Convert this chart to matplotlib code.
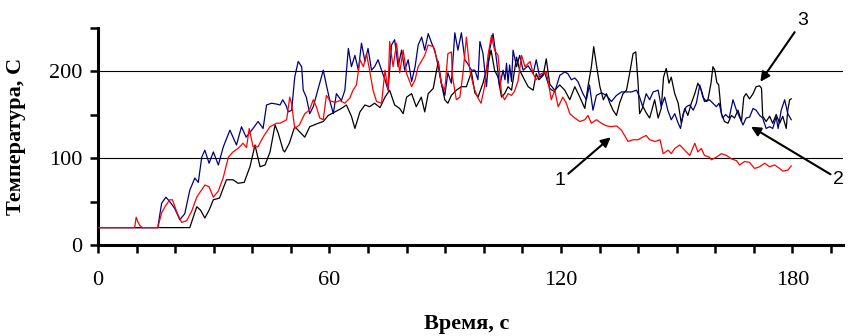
import matplotlib.pyplot as plt

# кривая 1 (красная)
t1 = [0, 9.5, 9.9, 10.3, 10.9, 11.5, 15.5, 16.5, 17.5, 18.6, 19.3, 20.5, 21.7, 23.0, 24.3, 25.6, 27.7, 28.8,
      29.9, 31.2, 32.5, 33.8, 35.0, 36.3, 37.6, 38.5, 39.2, 40.2, 41.5, 42.8, 44.6, 46.3, 47.2, 48.9, 49.7,
      50.2, 51.0, 52.2, 53.6, 54.8, 55.8, 56.6, 57.5, 58.4, 59.2, 60.1, 61.4, 62.7, 64.0, 65.3, 66.1, 67.0,
      67.9, 68.8, 69.6, 70.4, 71.3, 72.2, 73.5, 74.4, 75.2, 75.6, 76.5, 77.4, 78.2, 79.1, 80.0, 81.3, 82.2,
      83.0, 83.9, 84.7, 85.6, 86.9, 88.2, 89.0, 89.9, 90.7, 91.6, 91.9, 92.9, 93.8, 94.6, 95.5, 96.4, 97.5,
      98.5, 99.3, 100.2, 101.1, 102.0, 102.8, 103.7, 104.6, 105.4, 106.3, 107.2, 108.0, 108.9, 109.8, 110.7,
      112.0, 112.8, 113.6, 114.9, 116.2, 116.7, 117.5, 118.4, 119.3, 120.5, 121.4, 122.3, 123.6, 124.9,
      126.2, 127.0, 127.9, 129.2, 130.5, 131.8, 133.1, 134.4, 135.7, 136.5, 137.4, 138.7, 140.0, 141.2,
      142.1, 143.0, 144.4, 145.7, 146.5, 147.8, 148.6, 149.5, 150.8, 152.1, 153.4, 154.7, 155.5, 156.4,
      157.2, 158.5, 159.0, 160.3, 161.6, 162.9, 164.2, 165.5, 166.3, 167.6, 168.9, 170.2, 171.5, 172.8,
      174.1, 175.4, 176.7, 177.5, 178.8, 179.7]
T1 = [20, 20, 32, 27, 22, 20, 20, 37, 45, 52, 52, 37, 26, 28, 39, 55, 69, 67,
      55, 62, 78, 101, 107, 111, 117, 112, 134, 113, 113, 124, 136, 140, 140, 144, 170,
      162, 134, 138, 151, 155, 167, 159, 146, 144, 172, 166, 164, 166, 163, 169, 178, 184,
      213, 205, 220, 201, 178, 165, 163, 201, 178, 234, 205, 232, 198, 224, 197, 182, 190,
      205, 212, 218, 230, 228, 209, 186, 178, 220, 222, 193, 167, 170, 197, 239, 200, 180,
      169, 163, 182, 218, 241, 224, 218, 174, 167, 174, 172, 177, 189, 218, 205,
      211, 197, 190, 197, 199, 188, 167, 178, 159, 170, 163, 151, 146, 142,
      144, 149, 140, 144, 140, 137, 136, 137, 132, 126, 119, 121, 121, 124,
      126, 121, 119, 121, 105, 109, 105, 111, 115, 109, 103, 117, 107, 111,
      103, 101, 98, 101, 105, 103, 99, 97, 92, 96, 95, 88, 90, 94,
      90, 92, 88, 85, 86, 91]

# кривая 2 (синяя)
t2 = [0, 15.5, 16.5, 17.6, 18.6, 19.9, 21.2, 22.5, 23.8, 25.1, 26.0, 26.9, 27.7, 28.8, 29.9, 31.2, 32.5, 34.2,
      35.9, 37.2, 38.4, 40.2, 41.5, 42.8, 43.7, 45.0, 46.3, 47.2, 47.9, 48.8, 49.3, 50.2, 51.0, 51.9, 52.8,
      53.2, 54.0, 54.9, 55.8, 57.1, 58.4, 59.2, 60.1, 61.0, 61.8, 63.1, 64.0, 64.9, 65.7, 66.6, 67.5, 68.3,
      69.2, 70.0, 70.9, 71.7, 72.6, 73.5, 74.4, 75.2, 76.1, 76.9, 77.8, 78.7, 79.5, 80.4, 81.3, 82.2, 83.0,
      83.9, 84.7, 85.6, 86.5, 87.3, 88.2, 89.0, 89.9, 90.7, 91.6, 92.5, 93.3, 94.2, 95.1, 95.9, 96.8, 97.7,
      98.5, 99.0, 99.8, 100.7, 101.5, 102.4, 103.3, 104.1, 105.0, 105.5, 105.9, 106.3, 106.7, 107.2, 107.6,
      108.5, 109.3, 110.2, 111.5, 112.8, 113.6, 114.5, 115.8, 117.1, 118.4, 119.7, 121.0, 121.8, 122.7,
      123.6, 124.4, 125.7, 126.6, 127.4, 128.3, 129.2, 130.5, 131.8, 133.1, 134.4, 135.7, 137.0, 138.3,
      139.6, 140.4, 141.2, 142.1, 143.0, 143.9, 145.2, 146.0, 146.9, 147.7, 148.6, 149.5, 150.4, 151.0,
      151.7, 152.5, 153.4, 154.3, 155.1, 156.0, 156.8, 157.7, 158.5, 159.4, 160.3, 161.0, 161.9, 162.7,
      163.6, 164.6, 165.5, 166.3, 167.2, 168.0, 168.9, 169.8, 170.6, 171.5, 172.3, 173.2, 174.1, 174.9,
      175.8, 176.3, 177.1, 178.0, 178.8, 179.7]
T2 = [20, 20, 48, 55, 50, 42, 29, 36, 63, 77, 72, 101, 109, 94, 107, 92, 113, 132,
      115, 136, 124, 134, 142, 134, 161, 163, 162, 161, 167, 160, 153, 155, 193, 211, 205,
      178, 170, 151, 159, 180, 201, 184, 166, 151, 174, 166, 178, 226, 205, 218, 201, 232,
      211, 226, 201, 205, 213, 201, 190, 178, 230, 236, 205, 224, 201, 213, 188, 205, 230,
      239, 224, 243, 232, 224, 205, 186, 172, 198, 186, 244, 224, 244, 213, 208, 201, 201,
      190, 234, 220, 182, 224, 243, 213, 182, 201, 190, 209, 186, 207, 188, 224,
      205, 218, 201, 206, 197, 213, 193, 198, 180, 176, 195, 199, 197, 190,
      192, 188, 174, 167, 184, 155, 172, 175, 172, 165, 172, 176, 176, 176,
      178, 170, 159, 174, 167, 176, 178, 159, 170, 155, 144, 151, 140, 134,
      151, 159, 161, 155, 163, 184, 170, 165, 167, 163, 159, 163, 146, 150,
      146, 167, 155, 147, 138, 146, 147, 157, 155, 149, 146, 134, 136, 134,
      147, 134, 155, 167, 151, 144]

# кривая 3 (черная)
t3 = [0, 23.8, 25.6, 26.6, 27.7, 28.8, 29.9, 31.5, 33.3, 35.0, 36.3, 37.9, 39.4, 40.7, 42.0, 43.3, 44.6, 45.9,
      46.7, 48.0, 48.4, 49.6, 51.0, 52.3, 53.6, 54.9, 57.1, 58.4, 59.7, 61.4, 63.1, 64.4, 65.7, 66.6, 67.9,
      69.2, 70.4, 71.7, 73.1, 74.4, 75.6, 76.9, 78.2, 79.1, 80.0, 81.3, 82.5, 83.8, 84.7, 85.6, 86.9, 88.2,
      89.0, 89.9, 90.7, 91.6, 92.9, 94.2, 95.5, 96.8, 97.7, 98.5, 99.8, 101.1, 101.9, 102.8, 103.7, 104.6,
      105.4, 106.3, 107.2, 108.5, 109.3, 110.2, 111.5, 112.8, 113.6, 114.3, 115.4, 116.2, 117.1, 118.4,
      119.7, 121.0, 122.3, 123.6, 124.9, 126.2, 127.0, 127.9, 128.5, 129.2, 130.1, 131.0, 131.8, 132.7,
      133.5, 134.4, 135.2, 136.1, 137.0, 137.8, 138.7, 139.4, 140.0, 140.4, 141.3, 142.1, 143.0, 144.3,
      145.2, 146.0, 146.6, 147.3, 148.0, 148.6, 149.5, 150.4, 151.2, 152.1, 152.9, 153.8, 154.7, 155.5,
      156.4, 157.2, 158.1, 158.9, 159.4, 159.9, 160.4, 160.9, 161.6, 162.4, 163.3, 164.2, 165.0, 165.9,
      166.8, 167.4, 168.0, 168.9, 169.8, 170.6, 171.5, 172.0, 172.3, 173.2, 174.1, 174.9, 175.8, 176.7,
      177.5, 178.4, 178.8, 179.3, 179.7]
T3 = [20, 20, 44, 40, 31, 40, 52, 54, 75, 75, 71, 72, 90, 115, 90, 92, 107, 138,
      129, 109, 107, 117, 136, 130, 124, 136, 140, 142, 149, 153, 157, 161, 148, 134, 153,
      161, 159, 163, 158, 170, 178, 161, 157, 151, 170, 174, 159, 170, 153, 174, 180, 211,
      186, 167, 163, 172, 178, 182, 182, 199, 175, 170, 186, 209, 224, 201, 193, 170,
      174, 182, 178, 216, 201, 193, 182, 178, 197, 190, 195, 214, 185, 178,
      184, 178, 167, 182, 170, 157, 182, 205, 228, 207, 182, 167, 174, 163,
      155, 149, 163, 174, 178, 197, 220, 222, 186, 151, 159, 152, 146, 167,
      146, 157, 193, 203, 186, 193, 174, 163, 140, 157, 149, 163, 174, 186,
      178, 165, 167, 186, 205, 201, 187, 184, 151, 142, 140, 149, 146, 155,
      142, 170, 174, 168, 174, 182, 183, 180, 148, 142, 148, 140, 150, 140,
      148, 134, 155, 167, 168]

x_ticks = list(range(0, 200, 10))
x_labels = ['0', '60', '120', '180']
y_ticks = list(range(0, 300, 50))
y_labels = ['0', '100', '200']

plt.rcParams['font.family'] = ['Liberation Serif', 'DejaVu Serif']

fig = plt.figure(figsize=(8.49, 3.36), dpi=100)
ax = fig.add_axes([0.1154, 0.2708, 0.877, 0.6472])

ax.plot(t3, T3, color='black', lw=0.9, zorder=3)
ax.plot(t2, T2, color='#000080', lw=0.9, zorder=4)
ax.plot(t1, T1, color='#ff0000', lw=0.9, zorder=5)

for g in (100, 200):
    ax.axhline(g, color='black', lw=0.8, zorder=1)

ax.set_xlim(0, 193)
ax.set_ylim(0, 250)
ax.set_xticks(x_ticks)
ax.set_xticklabels([str(v) if str(v) in x_labels else '' for v in x_ticks])
ax.set_yticks(y_ticks)
ax.set_yticklabels([str(v) if str(v) in y_labels else '' for v in y_ticks])
ax.tick_params(axis='both', direction='out', length=6, width=1.8, labelsize=16)
ax.tick_params(axis='x', pad=13)
ax.tick_params(axis='y', pad=5)

for s in ('top', 'right'):
    ax.spines[s].set_visible(False)
for s in ('left', 'bottom'):
    ax.spines[s].set_linewidth(2.2)

ax.set_xlabel('Время, с', fontsize=16, fontweight='bold')
ax.xaxis.set_label_coords(0.495, -0.315)
ax.set_ylabel('Температура, С', fontsize=16, fontweight='bold')
ax.yaxis.set_label_coords(-0.097, 0.5)

arrow = dict(arrowstyle='-|>', color='black', lw=1.5, mutation_scale=14, shrinkA=0, shrinkB=0)
ax.annotate('1', xy=(132.9, 123.8), xytext=(121.2, 83.6), arrowprops=arrow,
            fontsize=14, family='Liberation Sans', ha='right', va='top', annotation_clip=False)
ax.annotate('2', xy=(169.3, 136), xytext=(190.6, 85.4), arrowprops=arrow,
            fontsize=14, family='Liberation Sans', ha='left', va='top', annotation_clip=False)
ax.annotate('3', xy=(171.7, 187.7), xytext=(181.2, 247.9), arrowprops=arrow,
            fontsize=14, family='Liberation Sans', ha='left', va='bottom', annotation_clip=False)

fig.savefig('out.png', dpi=100)
